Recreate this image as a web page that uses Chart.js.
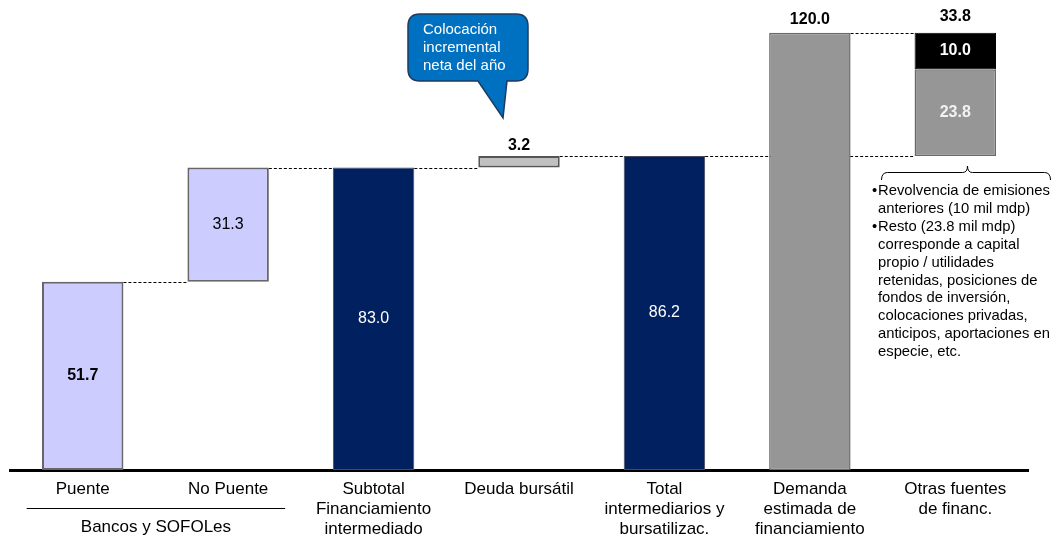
<!DOCTYPE html>
<html><head><meta charset="utf-8">
<script src="https://cdn.jsdelivr.net/npm/chart.js@4/dist/chart.umd.min.js"></script>
<style>html,body{margin:0;padding:0;background:#fff;overflow:hidden}</style>
</head><body>
<canvas id="c" width="1057" height="538"></canvas>
<script>
// ---- data ----
const categories = [['Puente'],['No Puente'],['Subtotal','Financiamiento','intermediado'],['Deuda bursátil'],['Total','intermediarios y','bursatilizac.'],['Demanda','estimada de','financiamiento'],['Otras fuentes','de financ.']];
const startValues = [0, 51.7, 0, 83.0, 0, 0, 86.2];
const endValues   = [51.7, 83.0, 83.0, 86.2, 86.2, 120.0, 110.0];
const valueLabels = ['51.7','31.3','83.0','3.2','86.2','120.0','23.8'];
const revolvenciaStart = 110.0;
const revolvenciaEnd = 120.0;
const revolvenciaLabel = '10.0';
const otrasTotalLabel = '33.8';
const connectors = [[0,1,51.7],[1,2,83.0],[2,3,83.0],[3,4,86.2],[4,6,86.2],[5,6,120.0]];
const groupLabel = 'Bancos y SOFOLes';
const calloutLines = ['Colocación','incremental','neta del año'];
const noteLines = [['•','Revolvencia de emisiones'],['','anteriores (10 mil mdp)'],['•','Resto (23.8 mil mdp)'],['','corresponde a capital'],['','propio / utilidades'],['','retenidas, posiciones de'],['','fondos de inversión,'],['','colocaciones privadas,'],['','anticipos, aportaciones en'],['','especie, etc.']];

// ---- styles ----
const FONT = '"Liberation Sans", Arial, sans-serif';
const fillColors = ['#CCCCFF','#CCCCFF','#002060','#C0C0C0','#002060','#969696','#969696'];
const borderColors = ['#666666','#666666','#4a4a5a','#555555','#4a4a5a','#6a6a6a','#6a6a6a'];
const borderWidths = [2,2,1,2,1,1.5,1.5];
const labelStyles = [
  {pos:'in', color:'#000', weight:'bold'},
  {pos:'in', color:'#000', weight:'normal'},
  {pos:'in', color:'#fff', weight:'normal'},
  {pos:'above', color:'#000', weight:'bold'},
  {pos:'in', color:'#fff', weight:'normal'},
  {pos:'above', color:'#000', weight:'bold'},
  {pos:'in', color:'#f2f2f2', weight:'bold'}
];

const mainData = startValues.map((s,i)=>[s, endValues[i]]);
const revData = categories.map((c,i)=> i===6 ? [revolvenciaStart, revolvenciaEnd] : null);

const decor = {
  id:'decor',
  beforeDatasetsDraw(chart){
    const ctx = chart.ctx, y = chart.scales.y, meta = chart.getDatasetMeta(0);
    ctx.save();
    ctx.strokeStyle = '#000'; ctx.lineWidth = 1; ctx.setLineDash([3,2]);
    connectors.forEach(([a,b,v])=>{
      const ea = meta.data[a], eb = meta.data[b];
      const x1 = ea.x + ea.width/2, x2 = eb.x - eb.width/2;
      const py = Math.round(y.getPixelForValue(v)) + 0.5;
      ctx.beginPath(); ctx.moveTo(x1, py); ctx.lineTo(x2, py); ctx.stroke();
    });
    ctx.restore();
  },
  afterDatasetsDraw(chart){
    const ctx = chart.ctx, meta = chart.getDatasetMeta(0), meta2 = chart.getDatasetMeta(1);
    ctx.save();
    ctx.textAlign = 'center'; ctx.textBaseline = 'middle';
    meta.data.forEach((el,i)=>{
      const st = labelStyles[i];
      ctx.fillStyle = st.color;
      ctx.font = st.weight + ' 16px ' + FONT;
      const top = Math.min(el.y, el.base), bot = Math.max(el.y, el.base);
      const ly = st.pos === 'in' ? (top+bot)/2 : top - (i === 3 ? 10 : 13);
      ctx.fillText(valueLabels[i], el.x, ly);
    });
    const r = meta2.data[6];
    ctx.fillStyle = '#fff'; ctx.font = 'bold 16px ' + FONT;
    ctx.fillText(revolvenciaLabel, r.x, (r.y + r.base)/2);
    ctx.fillStyle = '#000';
    ctx.fillText(otrasTotalLabel, r.x, Math.min(r.y, r.base) - 16);
    ctx.restore();
  },
  afterDraw(chart){
    const ctx = chart.ctx, xs = chart.scales.x;
    ctx.save();
    // group label under Puente / No Puente
    const gx1 = xs.getPixelForValue(0) - 56, gx2 = xs.getPixelForValue(1) + 57;
    ctx.strokeStyle = '#000'; ctx.lineWidth = 1;
    ctx.beginPath(); ctx.moveTo(gx1, 508.5); ctx.lineTo(gx2, 508.5); ctx.stroke();
    ctx.fillStyle = '#000'; ctx.font = '17px ' + FONT; ctx.textAlign = 'center'; ctx.textBaseline = 'middle';
    ctx.fillText(groupLabel, (gx1+gx2)/2, 527);

    // callout
    const L=408, R=528, T=14, B=81, rad=12;
    ctx.beginPath();
    ctx.moveTo(L+rad, T);
    ctx.lineTo(R-rad, T); ctx.quadraticCurveTo(R, T, R, T+rad);
    ctx.lineTo(R, B-rad); ctx.quadraticCurveTo(R, B, R-rad, B);
    ctx.lineTo(507, B); ctx.lineTo(503, 118); ctx.lineTo(478, B);
    ctx.lineTo(L+rad, B); ctx.quadraticCurveTo(L, B, L, B-rad);
    ctx.lineTo(L, T+rad); ctx.quadraticCurveTo(L, T, L+rad, T);
    ctx.closePath();
    ctx.fillStyle = '#0070C0'; ctx.fill();
    ctx.strokeStyle = '#1F3A5F'; ctx.lineWidth = 1.5; ctx.stroke();
    ctx.fillStyle = '#fff'; ctx.font = '15px ' + FONT; ctx.textAlign = 'left';
    calloutLines.forEach((t,k)=> ctx.fillText(t, 423, 30 + k*18));

    // brace under Otras fuentes
    const bx1 = 881.5, bx2 = 1050.5, bc = 967.5, by = 172.5;
    ctx.strokeStyle = '#000'; ctx.lineWidth = 1;
    ctx.beginPath();
    ctx.moveTo(bx1, 180); ctx.quadraticCurveTo(bx1, by, bx1+6, by);
    ctx.lineTo(bc-5, by); ctx.quadraticCurveTo(bc, by, bc, 166);
    ctx.quadraticCurveTo(bc, by, bc+5, by);
    ctx.lineTo(bx2-6, by); ctx.quadraticCurveTo(bx2, by, bx2, 180);
    ctx.stroke();

    // notes
    ctx.fillStyle = '#000'; ctx.font = '14.8px ' + FONT; ctx.textAlign = 'left';
    noteLines.forEach(([b,t],k)=>{
      const ly = 191 + k*17.9;
      if (b) ctx.fillText(b, 872, ly);
      ctx.fillText(t, 878, ly);
    });
    ctx.restore();
  }
};

new Chart(document.getElementById('c'), {
  type:'bar',
  data:{
    labels: categories,
    datasets:[
      {data: mainData, backgroundColor: fillColors, borderColor: borderColors, borderWidth: borderWidths, borderSkipped:false, grouped:false, barPercentage:0.56, categoryPercentage:1},
      {data: revData, backgroundColor:'#000000', borderColor:'#000000', borderWidth:1, borderSkipped:false, grouped:false, barPercentage:0.56, categoryPercentage:1}
    ]
  },
  options:{
    responsive:false, devicePixelRatio:1, animation:false,
    layout:{padding:{left:10, right:29, top:0, bottom:0}},
    plugins:{legend:{display:false}, tooltip:{enabled:false}},
    scales:{
      y:{display:false, min:0, max:129},
      x:{
        grid:{display:false, drawTicks:false},
        border:{display:true, color:'#000', width:3},
        ticks:{color:'#000', font:{family:FONT, size:17, lineHeight:20/17}, padding:9, maxRotation:0, autoSkip:false},
        afterFit(scale){ scale.height = 68; }
      }
    }
  },
  plugins:[decor]
});
</script>
</body></html>
